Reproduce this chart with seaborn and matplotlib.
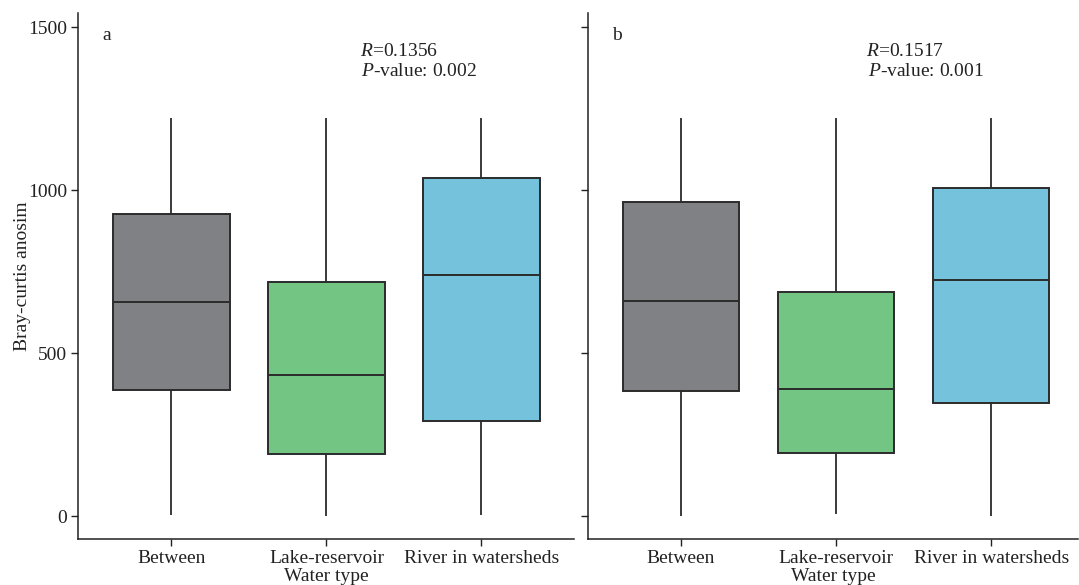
import numpy as np
import pandas as pd
import matplotlib
matplotlib.use("Agg")
import matplotlib.pyplot as plt
import seaborn as sns

sns.set_theme(style="ticks")
plt.rcParams['font.family'] = ['Liberation Serif', 'DejaVu Serif']
plt.rcParams['mathtext.fontset'] = 'custom'
plt.rcParams['mathtext.rm'] = 'Liberation Serif'
plt.rcParams['mathtext.it'] = 'Liberation Serif:italic'

categories = ["Between", "Lake-reservoir", "River in watersheds"]
colors = ["#808184", "#73C584", "#75C2DD"]

# five-number summaries: min, Q1, median, Q3, max
panel_a = {
    "Between": [3, 387, 656, 925, 1220],
    "Lake-reservoir": [1, 189, 433, 717, 1220],
    "River in watersheds": [3, 290, 740, 1036, 1220],
}
panel_b = {
    "Between": [1, 384, 660, 963, 1220],
    "Lake-reservoir": [6, 192, 390, 687, 1220],
    "River in watersheds": [1, 348, 725, 1005, 1220],
}
labels = ["a", "b"]
r_values = ["0.1356", "0.1517"]
p_values = ["0.002", "0.001"]
yticks = [0, 500, 1000, 1500]


def to_df(d):
    rows = []
    for c in categories:
        for v in d[c]:
            rows.append({"Water type": c, "val": v})
    return pd.DataFrame(rows)


W, H = 1079, 585
fig = plt.figure(figsize=(W / 100, H / 100), dpi=100)
ax_a = fig.add_axes([78 / W, (H - 539) / H, (574 - 78) / W, (539 - 13) / H])
ax_b = fig.add_axes([588 / W, (H - 539) / H, (1078 - 588) / W, (539 - 13) / H])

edge = "#2b2b2b"
for ax, data, lab, r, p, xl, tx in [
    (ax_a, panel_a, labels[0], r_values[0], p_values[0], (-0.603, 2.597), 1.216),
    (ax_b, panel_b, labels[1], r_values[1], p_values[1], (-0.60, 2.56), 1.195),
]:
    df = to_df(data)
    sns.boxplot(data=df, x="Water type", y="val", hue="Water type",
                palette=colors, order=categories, hue_order=categories,
                whis=(0, 100), width=0.75, showcaps=False, legend=False,
                linecolor=edge, linewidth=1.4, saturation=1, ax=ax,
                whiskerprops=dict(color=edge, linewidth=1.3),
                medianprops=dict(color=edge, linewidth=1.4))
    ax.set_xlim(*xl)
    ax.set_ylim(-70.5, 1543)
    ax.set_yticks(yticks)
    for s in ["top", "right"]:
        ax.spines[s].set_visible(False)
    for s in ["left", "bottom"]:
        ax.spines[s].set_linewidth(1.1)
        ax.spines[s].set_color("#222222")
    ax.tick_params(axis="both", direction="out", length=5, width=1.0,
                   color="#222222", labelsize=14, labelcolor="#222222", pad=3)
    ax.set_xlabel("Water type", fontsize=14, color="#222222", labelpad=0.5)
    ax.text(0.05, 0.957, lab, transform=ax.transAxes, fontsize=14,
            ha="left", va="center", color="#222222")
    ax.text(tx, 1426, r"$\it{R}$=" + r, fontsize=14, ha="left", va="center",
            color="#222222")
    ax.text(tx + 0.01, 1365, r"$\it{P}$-value: " + p, fontsize=14, ha="left",
            va="center", color="#222222")

ax_a.set_ylabel("Bray-curtis anosim", fontsize=14, color="#222222", labelpad=-2)
ax_b.set_ylabel("")
ax_b.set_yticklabels([])

fig.savefig("out.png", dpi=100)
